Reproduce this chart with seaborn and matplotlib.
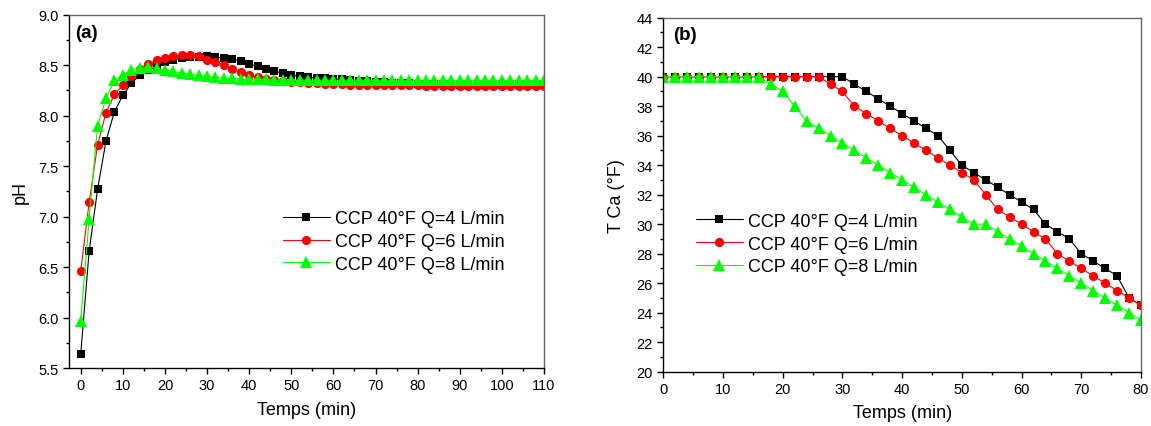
import numpy as np
import pandas as pd
import seaborn as sns
import matplotlib.pyplot as plt
from matplotlib.ticker import MultipleLocator

# --- data ---
# (a) pH vs time, every 2 min from 0 to 110
t_ph = list(range(0, 112, 2))
ph_q4 = [5.64, 6.66, 7.27, 7.75, 8.04, 8.20, 8.32, 8.40, 8.45, 8.49,
         8.53, 8.55, 8.57, 8.58, 8.58, 8.59, 8.58, 8.57, 8.56, 8.54,
         8.51, 8.49, 8.46, 8.44, 8.42, 8.40, 8.39, 8.38, 8.37, 8.37,
         8.36, 8.36, 8.35, 8.34, 8.34, 8.33, 8.33, 8.32, 8.32, 8.32,
         8.31, 8.31, 8.31, 8.31, 8.30, 8.30, 8.30, 8.30, 8.30, 8.30,
         8.30, 8.30, 8.30, 8.30, 8.30, 8.30]
ph_q6 = [6.46, 7.14, 7.71, 8.03, 8.21, 8.30, 8.39, 8.46, 8.51, 8.55,
         8.57, 8.59, 8.60, 8.60, 8.59, 8.55, 8.53, 8.50, 8.46, 8.43,
         8.40, 8.38, 8.36, 8.35, 8.34, 8.33, 8.33, 8.32, 8.32, 8.31,
         8.31, 8.31, 8.30, 8.30, 8.30, 8.30, 8.30, 8.30, 8.30, 8.30,
         8.30, 8.29, 8.29, 8.29, 8.29, 8.29, 8.29, 8.29, 8.29, 8.29,
         8.29, 8.29, 8.29, 8.29, 8.29, 8.29]
ph_q8 = [5.97, 6.98, 7.90, 8.17, 8.35, 8.40, 8.45, 8.47, 8.48, 8.47,
         8.45, 8.44, 8.42, 8.41, 8.40, 8.39, 8.38, 8.37, 8.37, 8.36,
         8.36, 8.36, 8.36, 8.35, 8.35, 8.35, 8.35, 8.35, 8.35, 8.35,
         8.35, 8.35, 8.35, 8.35, 8.35, 8.35, 8.35, 8.35, 8.35, 8.35,
         8.35, 8.35, 8.35, 8.35, 8.35, 8.35, 8.35, 8.35, 8.35, 8.35,
         8.35, 8.35, 8.35, 8.35, 8.35, 8.35]

# (b) T Ca vs time, every 2 min from 0 to 80
t_tca = list(range(0, 82, 2))
tca_q4 = [40.0] * 16 + [39.5, 39.0, 38.5, 38.0, 37.5, 37.0, 36.5, 36.0,
                        35.0, 34.0, 33.5, 33.0, 32.5, 32.0, 31.5, 31.0,
                        30.0, 29.5, 29.0, 28.0, 27.5, 27.0, 26.5, 25.0, 24.5]
tca_q6 = [40.0] * 14 + [39.5, 39.0, 38.0, 37.5, 37.0, 36.5, 36.0, 35.5,
                        35.0, 34.5, 34.0, 33.5, 33.0, 32.0, 31.0, 30.5,
                        30.0, 29.5, 29.0, 28.0, 27.5, 27.0, 26.5, 26.0,
                        25.5, 25.0, 24.5]
tca_q8 = [40.0] * 9 + [39.5, 39.0, 38.0, 37.0, 36.5, 36.0, 35.5, 35.0,
                       34.5, 34.0, 33.5, 33.0, 32.5, 32.0, 31.5, 31.0,
                       30.5, 30.0, 30.0, 29.5, 29.0, 28.5, 28.0, 27.5,
                       27.0, 26.5, 26.0, 25.5, 25.0, 24.5, 24.0, 23.5]

labels = ['CCP 40°F Q=4 L/min', 'CCP 40°F Q=6 L/min', 'CCP 40°F Q=8 L/min']
colors = ['#000000', '#ff0000', '#00ff00']
markers = ['s', 'o', '^']
msizes = [5.4, 6.6, 8.2]

sns.set_style('ticks')
plt.rcParams['font.family'] = ['Liberation Sans', 'DejaVu Sans']
plt.rcParams['text.color'] = 'black'
plt.rcParams['axes.labelcolor'] = 'black'

fig = plt.figure(figsize=(11.51, 4.27), dpi=100)
ax1 = fig.add_axes([0.0599, 0.1358, 0.4127, 0.8275])
ax2 = fig.add_axes([0.5763, 0.1272, 0.4150, 0.8290])


def draw(ax, x, series):
    for y, lab, c, m, ms in zip(series, labels, colors, markers, msizes):
        sns.lineplot(x=x, y=y, ax=ax, color=c, marker=m, markersize=ms,
                     markeredgewidth=0, linewidth=0.8, label=lab)


draw(ax1, t_ph, [ph_q4, ph_q6, ph_q8])
draw(ax2, t_tca, [tca_q4, tca_q6, tca_q8])

ax1.set_xlim(-2.8, 110)
ax1.set_ylim(5.5, 9.0)
ax1.xaxis.set_major_locator(MultipleLocator(10))
ax1.xaxis.set_minor_locator(MultipleLocator(5))
ax1.yaxis.set_major_locator(MultipleLocator(0.5))
ax1.yaxis.set_minor_locator(MultipleLocator(0.25))
ax1.yaxis.set_major_formatter(plt.FormatStrFormatter('%.1f'))
ax1.set_xlabel('Temps (min)', fontsize=13, labelpad=6)
ax1.set_ylabel('pH', fontsize=13, labelpad=7)

ax2.set_xlim(0, 80)
ax2.set_ylim(20, 44)
ax2.xaxis.set_major_locator(MultipleLocator(10))
ax2.xaxis.set_minor_locator(MultipleLocator(5))
ax2.yaxis.set_major_locator(MultipleLocator(2))
ax2.yaxis.set_minor_locator(MultipleLocator(1))
ax2.set_xlabel('Temps (min)', fontsize=13, labelpad=6)
ax2.set_ylabel('T Ca (°F)', fontsize=13, labelpad=8)

for ax in (ax1, ax2):
    ax.tick_params(which='major', direction='out', length=4, width=1,
                   labelsize=10.5, colors='#000000', top=False, right=False)
    ax.tick_params(which='minor', direction='out', length=2.2, width=1,
                   colors='#000000', top=False, right=False,
                   left=True, bottom=True)
    for side in ('left', 'bottom'):
        ax.spines[side].set_color('#000000')
        ax.spines[side].set_linewidth(1.0)
    for side in ('top', 'right'):
        ax.spines[side].set_color('#666666')
        ax.spines[side].set_linewidth(1.0)

ax1.legend(loc='upper left', bbox_to_anchor=(0.45, 0.447), frameon=False,
           fontsize=13, handlelength=2.6, handletextpad=0.3,
           labelspacing=0.32, borderpad=0, borderaxespad=0)
ax2.legend(loc='upper left', bbox_to_anchor=(0.068, 0.449), frameon=False,
           fontsize=13, handlelength=2.6, handletextpad=0.3,
           labelspacing=0.32, borderpad=0, borderaxespad=0)

ax1.text(0.0126, 0.950, '(a)', transform=ax1.transAxes, fontsize=13.5,
         fontweight='bold', va='center', ha='left')
ax2.text(0.0197, 0.953, '(b)', transform=ax2.transAxes, fontsize=13.5,
         fontweight='bold', va='center', ha='left')

fig.savefig('out.png', dpi=100)
